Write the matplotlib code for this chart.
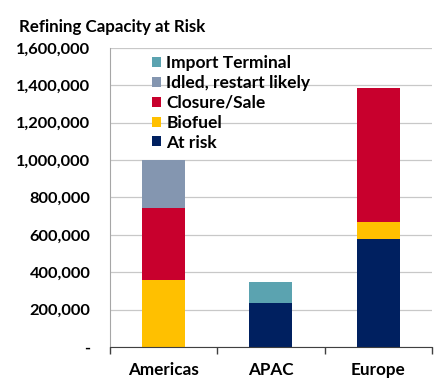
import numpy as np
import matplotlib.pyplot as plt
from matplotlib.ticker import FuncFormatter

regions = ["Americas", "APAC", "Europe"]
at_risk = [0, 237000, 576000]
biofuel = [360000, 0, 94000]
closure_sale = [385000, 0, 717000]
idled = [255000, 0, 0]
import_terminal = [0, 110000, 0]

series = [
    ("At risk", at_risk, "#002060"),
    ("Biofuel", biofuel, "#FFC000"),
    ("Closure/Sale", closure_sale, "#C8002D"),
    ("Idled, restart likely", idled, "#8496B0"),
    ("Import Terminal", import_terminal, "#5BA3B0"),
]

plt.rcParams['font.family'] = ['Lato', 'DejaVu Sans']
plt.rcParams['font.weight'] = 'bold'

fig = plt.figure(figsize=(4.43, 3.89), dpi=100)
ax = fig.add_axes([0.248, 0.108, 0.727, 0.769])

x = np.arange(len(regions))
bottom = np.zeros(len(regions))
handles = []
for name, vals, color in series:
    vals = np.array(vals, dtype=float)
    b = ax.bar(x, vals, 0.4, bottom=bottom, color=color, label=name, zorder=3)
    handles.append(b)
    bottom += vals

ax.set_xlim(-0.5, 2.5)
ax.set_ylim(0, 1600000)
ax.set_yticks(np.arange(0, 1600001, 200000))
ax.yaxis.set_major_formatter(FuncFormatter(lambda v, p: "-" if v == 0 else f"{int(v):,}"))
ax.grid(axis='y', color='#C8C8C8', linewidth=0.9, zorder=0)

ax.set_xticks(x)
ax.set_xticklabels(regions)
ax.set_xticks([-0.5, 0.5, 1.5, 2.5], minor=True)
ax.tick_params(axis='x', which='major', length=0, pad=11, labelsize=12.3)
ax.tick_params(axis='x', which='minor', length=5, color='#404040', width=1)
ax.tick_params(axis='y', length=0, pad=14, labelsize=11.8)

for s in ['top', 'right']:
    ax.spines[s].set_visible(False)
ax.spines['left'].set_color('#A6A6A6')
ax.spines['bottom'].set_color('#404040')
ax.spines['left'].set_zorder(4)
ax.spines['bottom'].set_zorder(4)

leg = ax.legend(handles[::-1], [h.get_label() for h in handles[::-1]],
                loc='upper left', bbox_to_anchor=(0.1, 1.01), frameon=False,
                fontsize=12.5, handlelength=0.5, handleheight=0.5,
                handletextpad=0.3, labelspacing=0.22, borderaxespad=0.2)

fig.text(0.043, 0.918, "Refining Capacity at Risk", fontsize=12.2, fontweight='bold')

fig.savefig("out.png", dpi=100)
